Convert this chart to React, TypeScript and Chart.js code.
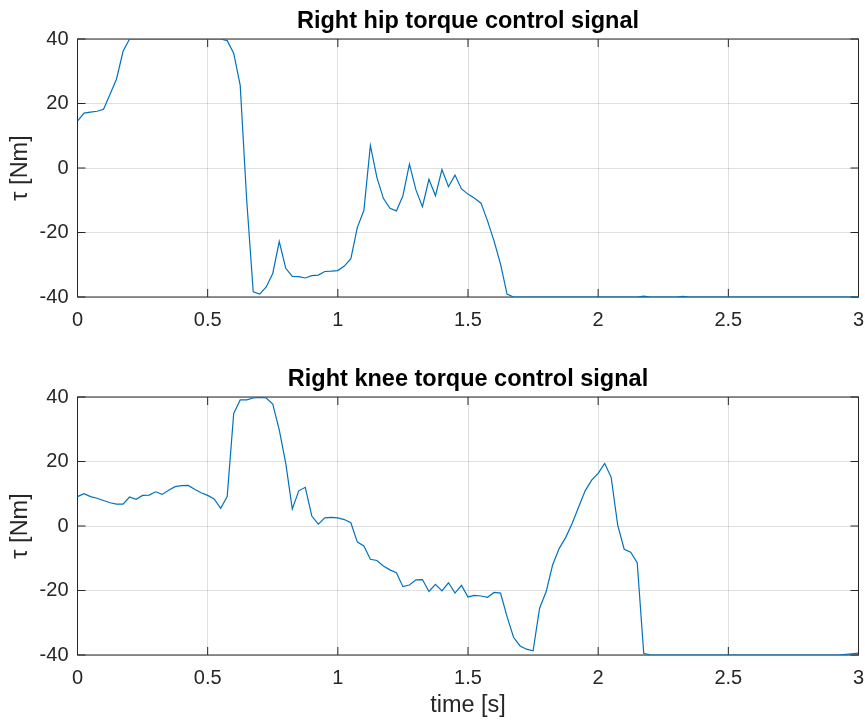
import React, { useEffect, useRef } from 'react';
import { Chart, registerables } from 'chart.js';

Chart.register(...registerables);

// ---------- data ----------
const hipTime = [
  0, 0.025, 0.05, 0.075, 0.1, 0.125, 0.15, 0.175, 0.2, 0.55, 0.575, 0.6, 0.625, 0.65, 0.675,
  0.7, 0.725, 0.75, 0.775, 0.8, 0.825, 0.85, 0.875, 0.9, 0.925, 0.95, 0.975, 1.0, 1.025,
  1.05, 1.075, 1.1, 1.125, 1.15, 1.175, 1.2, 1.225, 1.25, 1.275, 1.3, 1.325, 1.35, 1.375,
  1.4, 1.425, 1.45, 1.475, 1.5, 1.525, 1.55, 1.575, 1.6, 1.625, 1.65, 1.675, 2.15, 2.175,
  2.2, 2.3, 2.325, 2.35, 3.0,
];
const hipTorque = [
  14.5, 17.0, 17.3, 17.6, 18.2, 22.9, 27.6, 36.2, 40, 40, 39.5, 35.6, 25.6, -10, -38.4,
  -39.1, -36.9, -32.7, -22.8, -31.1, -33.6, -33.7, -34.1, -33.4, -33.2, -32.1, -32.0, -31.8, -30.4,
  -28.1, -18.4, -13.2, 7.0, -2.9, -9.4, -12.5, -13.3, -8.6, 1.2, -6.8, -12.0, -3.5, -8.6,
  -0.5, -5.8, -2.2, -6.5, -8.1, -9.4, -10.9, -16.4, -22.6, -29.8, -39.1, -40, -40, -39.7,
  -40, -40, -39.8, -40, -40,
];

const kneeTime = [
  0, 0.025, 0.05, 0.075, 0.1, 0.125, 0.15, 0.175, 0.2, 0.225, 0.25, 0.275, 0.3, 0.325, 0.35,
  0.375, 0.4, 0.425, 0.45, 0.475, 0.5, 0.525, 0.55, 0.575, 0.6, 0.625, 0.65, 0.675, 0.7,
  0.725, 0.75, 0.775, 0.8, 0.825, 0.85, 0.875, 0.9, 0.925, 0.95, 0.975, 1.0, 1.025, 1.05,
  1.075, 1.1, 1.125, 1.15, 1.175, 1.2, 1.225, 1.25, 1.275, 1.3, 1.325, 1.35, 1.375, 1.4,
  1.425, 1.45, 1.475, 1.5, 1.525, 1.55, 1.575, 1.6, 1.625, 1.65, 1.675, 1.7, 1.725, 1.75,
  1.775, 1.8, 1.825, 1.85, 1.875, 1.9, 1.925, 1.95, 1.975, 2.0, 2.025, 2.05, 2.075, 2.1,
  2.125, 2.15, 2.175, 2.2, 2.925, 3.0,
];
const kneeTorque = [
  9.1, 10.0, 9.1, 8.6, 7.9, 7.2, 6.8, 6.8, 9.0, 8.3, 9.5, 9.6, 10.6, 9.8, 11.1,
  12.2, 12.5, 12.6, 11.4, 10.3, 9.5, 8.4, 5.5, 9.1, 34.9, 39.1, 39.1, 39.7, 39.9,
  39.7, 37.8, 29.8, 19.4, 5.3, 10.9, 12.0, 3.1, 0.6, 2.5, 2.7, 2.5, 2.0, 1.0,
  -5.0, -6.2, -10.3, -10.7, -12.4, -13.6, -14.5, -18.8, -18.3, -16.7, -16.6, -20.3, -18.1, -20.1,
  -17.6, -20.8, -18.4, -22.0, -21.5, -21.7, -22.1, -20.6, -20.8, -28.1, -34.5, -37.2, -38.2, -38.7,
  -25.5, -20.4, -12.1, -7.0, -3.6, 0.8, 5.9, 10.9, 14.2, 16.3, 19.4, 15.1, 0.3, -7.2,
  -8.1, -11.4, -39.5, -40, -40, -39.4,
];

const hipTitle = 'Right hip torque control signal';
const kneeTitle = 'Right knee torque control signal';
const yLabel = 'τ [Nm]';
const xLabel = 'time [s]';
const xMin = 0;
const xMax = 3;
const xStep = 0.5;
const yMin = -40;
const yMax = 40;
const yStep = 20;

// ---------- style ----------
const FONT = '"Liberation Sans", Arial, Helvetica, sans-serif';
const AXIS_COLOR = '#262626';
const GRID_COLOR = 'rgba(38,38,38,0.15)';
const LINE_COLOR = '#0072BD';

const boxPlugin = {
  id: 'matlabBox',
  beforeDatasetsDraw(chart: any) {
    const { ctx, chartArea } = chart;
    const { left, right, top, bottom } = chartArea;
    const x = chart.scales.x;
    const y = chart.scales.y;
    ctx.save();
    ctx.strokeStyle = AXIS_COLOR;
    ctx.lineWidth = 1;
    ctx.beginPath();
    const tl = 8;
    x.ticks.forEach((t: any) => {
      const px = x.getPixelForValue(t.value);
      ctx.moveTo(px, bottom);
      ctx.lineTo(px, bottom - tl);
      ctx.moveTo(px, top);
      ctx.lineTo(px, top + tl);
    });
    y.ticks.forEach((t: any) => {
      const py = y.getPixelForValue(t.value);
      ctx.moveTo(left, py);
      ctx.lineTo(left + tl, py);
      ctx.moveTo(right, py);
      ctx.lineTo(right - tl, py);
    });
    ctx.stroke();
    ctx.strokeRect(left, top, right - left, bottom - top);
    ctx.restore();
  },
};

const fmt = (v: any) => String(Math.round(Number(v) * 10) / 10);

function makeConfig(times: number[], values: number[], title: string, showXTitle: boolean, xAxisHeight: number): any {
  const pts = times.map((t, i) => ({ x: t, y: values[i] }));
  return {
    type: 'line',
    data: {
      datasets: [
        {
          data: pts,
          borderColor: LINE_COLOR,
          borderWidth: 1.2,
          pointRadius: 0,
          tension: 0,
          fill: false,
        },
      ],
    },
    options: {
      animation: false,
      responsive: false,
      devicePixelRatio: 1,
      events: [],
      layout: { padding: { left: 0, right: 6.5, top: 0, bottom: 0 }, autoPadding: false },
      plugins: {
        legend: { display: false },
        tooltip: { enabled: false },
        title: {
          display: true,
          text: title,
          color: '#000000',
          fullSize: false,
          font: { family: FONT, size: 23.5, weight: 'bold', lineHeight: 1.2 },
          padding: { top: 7.1, bottom: 3.7 },
        },
      },
      scales: {
        x: {
          type: 'linear',
          min: xMin,
          max: xMax,
          afterFit: (s: any) => {
            s.height = xAxisHeight;
            s.paddingLeft = 0;
            s.paddingRight = 0;
          },
          ticks: {
            stepSize: xStep,
            autoSkip: false,
            maxRotation: 0,
            padding: 11,
            color: AXIS_COLOR,
            font: { family: FONT, size: 20 },
            callback: fmt,
          },
          grid: { color: GRID_COLOR, drawTicks: false, lineWidth: 1 },
          border: { display: false },
          title: {
            display: showXTitle,
            text: xLabel,
            color: AXIS_COLOR,
            font: { family: FONT, size: 23.5, lineHeight: 1.2 },
            padding: { top: 0, bottom: 4 },
          },
        },
        y: {
          type: 'linear',
          min: yMin,
          max: yMax,
          afterFit: (s: any) => {
            s.width = 77.5;
            s.paddingTop = 0;
            s.paddingBottom = 0;
          },
          ticks: {
            stepSize: yStep,
            autoSkip: false,
            padding: 9,
            color: AXIS_COLOR,
            font: { family: FONT, size: 20 },
            callback: fmt,
          },
          grid: { color: GRID_COLOR, drawTicks: false, lineWidth: 1 },
          border: { display: false },
          title: {
            display: true,
            text: yLabel,
            color: AXIS_COLOR,
            font: { family: FONT, size: 23.5, lineHeight: 1.2 },
            padding: { top: 6, bottom: 0 },
          },
        },
      },
    },
    plugins: [boxPlugin],
  };
}

function Panel(props: { top: number; height: number; times: number[]; values: number[]; title: string; showXTitle: boolean }) {
  const ref = useRef<HTMLCanvasElement | null>(null);
  useEffect(() => {
    if (!ref.current) return;
    const xAxisHeight = props.height - 297;
    const chart = new Chart(ref.current, makeConfig(props.times, props.values, props.title, props.showXTitle, xAxisHeight));
    return () => chart.destroy();
  }, []);
  return (
    <canvas
      ref={ref}
      width={865}
      height={props.height}
      style={{ position: 'absolute', left: 0, top: props.top, width: 865, height: props.height, display: 'block' }}
    />
  );
}

export default function App() {
  return (
    <div style={{ position: 'absolute', left: 0, top: 0, width: 865, height: 724, background: '#ffffff', overflow: 'hidden' }}>
      <Panel top={0} height={358} times={hipTime} values={hipTorque} title={hipTitle} showXTitle={false} />
      <Panel top={358} height={366} times={kneeTime} values={kneeTorque} title={kneeTitle} showXTitle={true} />
    </div>
  );
}
